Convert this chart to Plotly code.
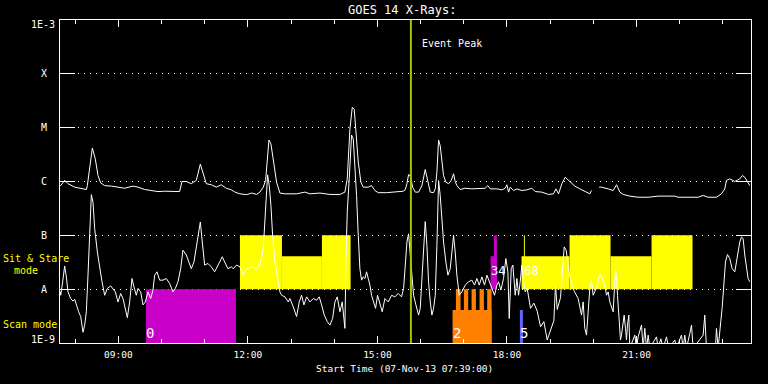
import datetime as dt
import math
import plotly.graph_objects as go

# ---------------- data ----------------
START = "2013-11-07 07:39:00"
HOURS_SPAN = 16.0
EVENT_PEAK_H = 15.775  # decimal hour of day

# GOES 14 long channel (1-8 A), decimal hour of day / W m^-2 (None = data gap)
long_t = [7.650, 7.666, 7.758, 7.835, 7.990, 8.144, 8.260, 8.283, 8.399, 8.468, 8.530, 8.592, 8.684,
          8.839, 9.147, 9.340, 9.456, 9.610, 9.764, 9.919, 10.073, 10.227, 10.420, 10.474, 10.575,
          10.690, 10.806, 10.899, 10.976, 11.038, 11.153, 11.269, 11.385, 11.500, 11.616,
          11.701, 11.816, 11.971, 12.087, 12.202, 12.279, 12.357, 12.411, 12.449, 12.488, 12.534,
          12.588, 12.665, 12.742, 12.858, 13.128, 13.321, 13.437, 13.668, 13.900, 14.131, 14.247,
          14.301, 14.363, 14.417, 14.463, 14.502, 14.556, 14.617, 14.671, 14.787, 14.864, 14.941,
          15.019, 15.211, 15.443, 15.597,
          15.644, 15.683, 15.721, 15.775, 15.814, 15.876, 15.953, 16.030, 16.107, 16.169, 16.223,
          16.300, 16.339, 16.377, 16.416, 16.454, 16.493, 16.531, 16.585, 16.647, 16.709, 16.763,
          16.801, 16.840, 16.917, 17.033, 17.187, 17.342, 17.496, 17.558, 17.612, 17.766, 17.882,
          17.959, 17.998, 18.036, 18.075, 18.152, 18.229, 18.345, 18.461, 18.576, 18.653, 18.808,
          18.962, 19.078, 19.132, 19.194, 19.271, 19.348, 19.425, 19.502, 19.571,
          19.687, 19.802, 19.918, 19.957, None, 20.134, 20.188, 20.343, 20.458, 20.536, 20.613,
          20.690, 20.844, 21.037, 21.269, 21.500, 21.732, 21.886, 21.963, 22.117, 22.272, 22.426,
          22.542, 22.657, 22.850, 22.966, 23.043, 23.082, 23.159, 23.275, 23.390, 23.452, 23.506,
          23.583, 23.622]
long_flux = [8.6e-7, 8.4e-7, 1.05e-6, 9.1e-7, 7.85e-7, 7.3e-7, 7.1e-7, 8.4e-7, 4.2e-6, 2.6e-6, 1.29e-6,
             9.4e-7, 8.4e-7, 8.2e-7, 7.5e-7, 8.2e-7, 7.85e-7, 7.1e-7, 6.8e-7, 6.5e-7, 6.6e-7, 6.5e-7,
             6.5e-7, 1.0e-6, 1.0e-6, 9.1e-7, 1.05e-6, 2.1e-6, 1.29e-6, 9.1e-7, 8.7e-7, 7.85e-7, 8.7e-7,
             7.5e-7, 7.0e-7,
             6.35e-7, 5.9e-7, 5.7e-7, 6.1e-7, 5.75e-7, 6.35e-7, 7.85e-7, 1.05e-6, 2.3e-6, 5.9e-6,
             5.0e-6, 2.3e-6, 9.7e-7, 6.1e-7, 5.9e-7, 5.9e-7, 6.35e-7, 5.9e-7, 6.1e-7, 5.75e-7, 5.75e-7,
             6.35e-7, 1.12e-6, 9.4e-6, 2.38e-5, 2.2e-5, 7.1e-6, 2.3e-6, 9.7e-7, 7.85e-7, 7.85e-7,
             8.4e-7, 6.8e-7, 6.2e-7, 6.2e-7, 6.5e-7, 6.6e-7,
             7.0e-7, 9.1e-7, 1.35e-6, 1.2e-6, 7.85e-7, 6.35e-7, 6.35e-7, 8.4e-7, 1.67e-6, 9.7e-7,
             6.35e-7, 6.2e-7, 7.3e-7, 1.49e-6, 5.9e-6, 4.6e-6, 2.3e-6, 1.29e-6, 9.7e-7, 9.1e-7, 1.05e-6,
             1.39e-6, 1.0e-6, 8.4e-7, 7.1e-7, 7.5e-7, 7.3e-7, 7.3e-7, 7.5e-7, 8.4e-7, 7.3e-7, 7.3e-7,
             7.0e-7, 7.5e-7, 8.7e-7, 6.35e-7, 7.85e-7, 6.8e-7, 7.3e-7, 6.8e-7, 7.0e-7, 7.5e-7, 6.5e-7,
             6.35e-7, 5.75e-7, 5.9e-7, 7.3e-7, 5.9e-7, 9.1e-7, 1.2e-6, 1.05e-6, 9.1e-7, 8.2e-7,
             7.3e-7, 6.5e-7, 5.9e-7, 6.8e-7, None, 7.85e-7, 7.85e-7, 7.3e-7, 6.8e-7, 8.7e-7, 6.35e-7,
             5.75e-7, 5.35e-7, 5.1e-7, 5.1e-7, 5.35e-7, 5.35e-7, 5.35e-7, 5.1e-7, 5.1e-7, 5.1e-7,
             5.1e-7, 5.5e-7, 5.1e-7, 5.1e-7, 5.9e-7, 7.3e-7, 1.05e-6, 1.12e-6, 1.0e-6, 1.12e-6,
             1.29e-6, 1.2e-6, 9.7e-7, 8.4e-7]

# GOES 14 short channel (0.5-4 A)
short_t = [7.658, 7.666, 7.712, 7.758, 7.797, 7.835, 7.897, 7.951, 7.990, 8.028, 8.082, 8.129, 8.183,
           8.221, 8.260, 8.298, 8.337, 8.376, 8.414, 8.453, 8.515, 8.569, 8.623, 8.684, 8.746, 8.823,
           8.877, 8.931, 8.993, 9.055, 9.109, 9.147, 9.209, 9.263, 9.317, 9.363, 9.417, 9.456, 9.518,
           9.572, 9.626, 9.687, 9.749, 9.803, 9.842, 9.896, 9.957, 10.035, 10.112, 10.189, 10.266,
           10.320, 10.382, 10.444, 10.497, 10.575, 10.636, 10.690, 10.752, 10.806, 10.860, 10.899,
           10.945, 10.999, 11.076, 11.153, 11.231, 11.308, 11.408, 11.462, 11.539, 11.616,
           11.662, 11.739, 11.816, 11.894, 11.971, 12.048, 12.125, 12.202, 12.279, 12.357, 12.411,
           12.457, 12.495, 12.534, 12.573, 12.627, 12.704, 12.742, 12.781, 12.858, 12.935, 12.974,
           13.051, 13.128, 13.190, 13.244, 13.298, 13.360, 13.437, 13.514, 13.591, 13.653, 13.707,
           13.769, 13.838, 13.900, 13.962, 14.016, 14.070, 14.131, 14.185, 14.247, 14.270, 14.301,
           14.347, 14.401, 14.440, 14.478, 14.517, 14.556, 14.594, 14.633, 14.671, 14.710, 14.749,
           14.787, 14.826, 14.864, 14.903, 14.957, 15.003, 15.057, 15.111, 15.173, 15.250, 15.327,
           15.404, 15.482, 15.559,
           15.606, 15.644, 15.683, 15.721, 15.760, 15.798, 15.837, 15.891, 15.953, 15.991, 16.030,
           16.069, 16.107, 16.146, 16.184, 16.223, 16.261, 16.300, 16.339, 16.377, 16.416, 16.454,
           16.493, 16.531, 16.585, 16.632, 16.686, 16.724, 16.763, 16.801, 16.840, 16.894, 16.956,
           17.033, 17.110, 17.187, 17.249, 17.303, 17.357, 17.419, 17.480, 17.535, 17.589, 17.650,
           17.712, 17.766, 17.805, 17.859, 17.920, 17.974, 18.021, 18.052, 18.098, 18.136, 18.191,
           18.229, 18.268, 18.306, 18.345, 18.383, 18.422, 18.468, 18.545, 18.623, 18.700, 18.777,
           18.854, 18.931, 19.008, 19.085, 19.124, 19.163, 19.240, 19.325, 19.371, 19.410, 19.448,
           19.502, 19.564,
           19.648, 19.687, 19.725, 19.764, 19.802, 19.841, 19.880, 19.918, 19.957, 19.995, 20.080,
           20.150, 20.188, 20.265, 20.304, 20.343, 20.381, 20.420, 20.458, 20.512, 20.536, 20.559,
           20.590, 20.628, 20.651, 20.690, 20.713, 20.744, 20.767, 20.790, 20.821, 20.844, 20.960,
           20.998, 21.037, 21.114, 21.153, 21.191, 21.230, 21.269, 21.307, 21.461, 21.500, 21.562,
           21.616, 21.693, 21.747, 21.886, 21.924, 22.040, 22.079, 22.117, 22.156, 22.233, 22.272,
           22.310, 22.542, 22.580, 22.619, 22.827, 22.850, 22.889, 22.927, 22.950, 22.981, 23.020,
           23.059, 23.105, 23.159, 23.213, 23.275, 23.313, 23.352, 23.390, 23.429, 23.468, 23.506,
           23.545, 23.583, 23.622]
short_flux = [9.0e-9, 7.7e-9, 1.37e-8, 2.7e-8, 1.69e-8, 8.9e-9, 6.7e-9, 6.0e-9, 6.5e-9, 5.1e-9, 3.8e-9,
              3.1e-9, 1.58e-9, 2.15e-9, 3.8e-9, 1.82e-8, 1.0e-7, 5.7e-7, 4.1e-7, 1.33e-7, 4.9e-8, 2.4e-8,
              1.37e-8, 7.7e-9, 1.03e-8, 1.15e-8, 1.03e-8, 8.9e-9, 5.8e-9, 8.3e-9, 6.7e-9, 5.1e-9,
              2.95e-9, 5.8e-9, 1.58e-8, 1.1e-8, 7.7e-9, 1.03e-8, 8.9e-9, 5.1e-9, 5.8e-9, 8.9e-9, 6.7e-9,
              9.6e-9, 1.82e-8, 2.1e-8, 1.47e-8, 1.47e-8, 1.58e-8, 1.27e-8, 8.9e-9, 1.03e-8, 1.37e-8,
              2.4e-8, 5.3e-8, 4.3e-8, 3.2e-8, 2.4e-8, 3.2e-8, 6.5e-8, 1.33e-7, 1.77e-7, 7.5e-8, 2.8e-8,
              3.0e-8, 2.6e-8, 2.1e-8, 2.8e-8, 4.0e-8, 3.2e-8, 2.4e-8, 2.6e-8,
              2.4e-8, 2.8e-8, 2.6e-8, 1.82e-8, 2.4e-8, 2.5e-8, 2.6e-8, 2.4e-8, 2.8e-8, 5.7e-8, 3.6e-7,
              1.33e-6, 8.4e-7, 3.6e-7, 1.0e-7, 3.2e-8, 1.37e-8, 8.9e-9, 7.7e-9, 7.2e-9, 5.8e-9, 6.7e-9,
              4.7e-9, 3.1e-9, 5.8e-9, 7.7e-9, 5.1e-9, 7.2e-9, 5.8e-9, 6.7e-9, 6.25e-9, 7.2e-9, 5.1e-9,
              3.3e-9, 2.5e-9, 2.15e-9, 2.85e-9, 5.8e-9, 7.2e-9, 3.8e-9, 5.8e-9, 1.87e-9, 3.2e-8, 2.7e-7,
              1.12e-6, 7.3e-6, 6.2e-6, 2.3e-6, 5.5e-7, 1.0e-7, 2.4e-8, 1.47e-8, 1.69e-8, 1.58e-8, 2.1e-8,
              1.58e-8, 1.19e-8, 7.7e-9, 5.8e-9, 4.4e-9, 7.7e-9, 5.1e-9, 3.8e-9, 6.7e-9, 5.8e-9, 7.7e-9,
              7.2e-9, 8.3e-9, 7.2e-9,
              1.03e-8, 3.2e-8, 7.5e-8, 1.07e-7, 4.3e-8, 1.37e-8, 7.7e-9, 5.1e-9, 3.3e-9, 4.4e-9, 1.37e-8,
              6.5e-8, 1.8e-7, 6.5e-8, 1.37e-8, 5.8e-9, 3.3e-9, 4.4e-9, 7.7e-9, 6.5e-8, 1.04e-6, 5.5e-7,
              1.77e-7, 7.5e-8, 3.2e-8, 1.82e-8, 2.4e-8, 5.7e-8, 1.0e-7, 4.9e-8, 1.82e-8, 7.7e-9, 8.9e-9,
              1.19e-8, 1.37e-8, 1.47e-8, 1.19e-8, 1.58e-8, 1.19e-8, 1.69e-8, 1.19e-8, 1.82e-8, 1.37e-8,
              1.03e-8, 7.7e-9, 1.19e-8, 1.37e-8, 9.6e-9, 1.58e-8, 3.7e-8, 2.1e-8, 2.85e-9, 2.4e-8,
              2.8e-8, 7.7e-9, 1.58e-8, 7.7e-9, 1.37e-8, 2.8e-8, 1.37e-8, 8.9e-9, 1.03e-8, 4.4e-9, 5.5e-9,
              3.9e-9, 2.0e-9, 2.5e-9, 1.14e-9, 1.7e-9, 2.6e-9, 1.2e-8, 4.2e-9, 7.0e-9, 6.1e-8, 5.3e-8,
              3.2e-8, 1.82e-8, 1.19e-8, 8.9e-9,
              6.7e-9, 4.4e-9, 3.3e-9, 5.8e-9, 1.87e-9, 1.4e-9, 4.4e-9, 1.03e-8, 1.47e-8, 7.7e-9, 1.1e-8,
              1.95e-8, 1.69e-8, 1.19e-8, 7.7e-9, 8.9e-9, 5.8e-9, 4.4e-9, 3.8e-9, 2.25e-8, 1.69e-8,
              7.7e-9, 3.8e-9, 1.14e-9, 1.4e-9, 2.5e-9, 3.3e-9, 1.87e-9, 1.14e-9, 2.15e-9, 3.3e-9,
              8e-10, 1.4e-9, 8e-10, 1.3e-9, 2.15e-9, 8e-10, 1.87e-9, 8e-10, 1.4e-9, 8e-10, 1.3e-9,
              8e-10, 1.2e-9, 8e-10, 1.3e-9, 8e-10, 1.14e-9, 8e-10, 1.4e-9, 8e-10, 1.4e-9, 8e-10,
              1.5e-9, 2.15e-9, 8e-10, 1.4e-9, 3.3e-9, 8e-10, 8e-10, 1.87e-9, 8e-10, 1.4e-9, 2.5e-9,
              4.4e-9, 1.19e-8, 3.2e-8, 4.4e-8, 3.7e-8, 2.4e-8, 2.1e-8, 3.2e-8, 4.9e-8, 7.5e-8, 9.3e-8,
              8.7e-8, 4.3e-8, 2.4e-8, 1.58e-8, 1.37e-8]

# Observing blocks: (label, colour, start hour, end hour, top level)
LEVEL_A = 1e-8
LEVEL_MID_UP = 4.1e-8
LEVEL_B = 1e-7
LEVEL_BOTTOM = 1e-9
LEVEL_MID_LOW = 4.1e-9

sit_stare_blocks = [  # bottom at A level
    ("1", "#ffff00", 11.817, 12.789, LEVEL_B),
    ("1", "#ffff00", 12.789, 13.715, LEVEL_MID_UP),
    ("1", "#ffff00", 13.715, 14.379, LEVEL_B),
    ("3", "#c800c8", 17.620, 17.766, LEVEL_MID_UP),
    ("4", "#c800c8", 17.697, 17.766, LEVEL_B),
    ("7", "#ffff00", 18.337, 19.449, LEVEL_MID_UP),
    ("7", "#ffff00", 19.449, 20.398, LEVEL_B),
    ("7", "#ffff00", 20.398, 21.347, LEVEL_MID_UP),
    ("7", "#ffff00", 21.347, 22.296, LEVEL_B),
    ("6", "#ffff00", 18.391, 18.414, LEVEL_B),
]
scan_blocks = [  # bottom at 1E-9
    ("0", "#c800c8", 9.641, 11.724, LEVEL_A),
    ("2", "#ff8000", 16.740, 17.643, LEVEL_MID_LOW),
    ("2", "#ff8000", 16.817, 16.925, LEVEL_A),
    ("2", "#ff8000", 17.002, 17.101, LEVEL_A),
    ("2", "#ff8000", 17.180, 17.280, LEVEL_A),
    ("2", "#ff8000", 17.365, 17.465, LEVEL_A),
    ("2", "#ff8000", 17.541, 17.643, LEVEL_A),
    ("5", "#6464ff", 18.298, 18.368, LEVEL_MID_LOW),
]
scan_labels = [("0", 9.641), ("2", 16.740), ("5", 18.298)]
sit_labels = [("34", 17.620), ("68", 18.400)]

y_tick_vals = [1e-9, 1e-8, 1e-7, 1e-6, 1e-5, 1e-4, 1e-3]
y_tick_text = ["1E-9", "A", "B", "C", "M", "X", "1E-3"]
x_major_ticks = ["09:00", "12:00", "15:00", "18:00", "21:00"]

# ---------------- helpers ----------------
base_day = dt.datetime(2013, 11, 7)
t_start = dt.datetime.strptime(START, "%Y-%m-%d %H:%M:%S")
t_end = t_start + dt.timedelta(hours=HOURS_SPAN)


def to_dt(h):
    if h is None:
        return None
    return base_day + dt.timedelta(hours=h)


FONT = "DejaVu Sans Mono"
W, H = 768, 384
ML, MR, MT, MB = 60, 17, 20, 41
PW, PH = W - ML - MR, H - MT - MB


def px(xp):
    return (xp - ML) / PW


def py(yp):
    return 1 - (yp - MT) / PH


fig = go.Figure()

for bottom, blocks in ((LEVEL_A, sit_stare_blocks), (LEVEL_BOTTOM, scan_blocks)):
    for lab, col, t0, t1, top in blocks:
        fig.add_trace(go.Scatter(
            x=[to_dt(t0), to_dt(t1), to_dt(t1), to_dt(t0), to_dt(t0)],
            y=[bottom, bottom, top, top, bottom],
            mode="lines", fill="toself", fillcolor=col,
            line=dict(width=0, color=col), hoverinfo="skip", showlegend=False))

fig.add_trace(go.Scatter(x=[to_dt(h) for h in short_t], y=short_flux, mode="lines",
                         line=dict(color="white", width=1), connectgaps=False, showlegend=False))
fig.add_trace(go.Scatter(x=[to_dt(h) for h in long_t], y=long_flux, mode="lines",
                         line=dict(color="white", width=1), connectgaps=False, showlegend=False))

fig.add_shape(type="line", xref="x", yref="paper", x0=to_dt(EVENT_PEAK_H), x1=to_dt(EVENT_PEAK_H),
              y0=0, y1=1, line=dict(color="rgb(155,200,0)", width=2), layer="above")

ann = []
lab_font = dict(family=FONT, size=10, color="white")
# y-axis labels
ann.append(dict(text="1E-3", xref="paper", yref="paper", x=px(57), y=py(24), xanchor="right",
                yanchor="middle", showarrow=False, font=lab_font))
ann.append(dict(text="1E-9", xref="paper", yref="paper", x=px(57), y=py(339.5), xanchor="right",
                yanchor="middle", showarrow=False, font=lab_font))
for v, t in zip(y_tick_vals[1:-1], y_tick_text[1:-1]):
    ann.append(dict(text=t, xref="paper", yref="y", x=px(43.5), y=math.log10(v), xanchor="center",
                    yanchor="middle", showarrow=False, font=lab_font))
# mode labels
yel = dict(family=FONT, size=10, color="#ffff00")
ann.append(dict(text="Sit & Stare", xref="paper", yref="paper", x=px(0.5), y=py(258.7),
                xanchor="left", yanchor="middle", showarrow=False, font=yel))
ann.append(dict(text="mode", xref="paper", yref="paper", x=px(11.5), y=py(270.7),
                xanchor="left", yanchor="middle", showarrow=False, font=yel))
ann.append(dict(text="Scan mode", xref="paper", yref="paper", x=px(0.5), y=py(324),
                xanchor="left", yanchor="middle", showarrow=False, font=yel))
# title, x label, event
ann.append(dict(text="GOES 14 X-Rays:", xref="paper", yref="paper", x=px(401.7), y=py(9.5),
                xanchor="center", yanchor="middle", showarrow=False,
                font=dict(family=FONT, size=12, color="white")))
ann.append(dict(text="Start Time (07-Nov-13 07:39:00)", xref="paper", yref="paper", x=px(404.7),
                y=py(368), xanchor="center", yanchor="middle", showarrow=False,
                font=dict(family=FONT, size=9.5, color="white")))
ann.append(dict(text="Event Peak", xref="x", yref="paper", x=to_dt(EVENT_PEAK_H), xshift=9,
                y=py(43.3), xanchor="left", yanchor="middle", showarrow=False, font=lab_font))
# block number labels
for t, h in scan_labels:
    ann.append(dict(text=t, xref="x", yref="y", x=to_dt(h), y=-8.81, xanchor="left", xshift=-2,
                    yanchor="middle", showarrow=False, font=dict(family=FONT, size=14, color="white")))
for t, h in sit_labels:
    ann.append(dict(text=t, xref="x", yref="y", x=to_dt(h), y=-7.657, xanchor="left", xshift=-2,
                    yanchor="middle", showarrow=False, font=dict(family=FONT, size=12, color="white")))

fig.update_layout(
    width=W, height=H, margin=dict(l=ML, r=MR, t=MT, b=MB, pad=0),
    paper_bgcolor="black", plot_bgcolor="black", showlegend=False,
    annotations=ann,
    xaxis=dict(type="date", range=[t_start, t_end], showgrid=False, zeroline=False,
               showline=True, linecolor="white", linewidth=1, mirror="ticks",
               ticks="inside", ticklen=7, tickcolor="white", tickwidth=1,
               tickmode="array", tickvals=[base_day + dt.timedelta(hours=int(s[:2])) for s in x_major_ticks],
               ticktext=x_major_ticks, ticklabelstandoff=3,
               tickfont=dict(family=FONT, size=9.5, color="white"),
               minor=dict(ticks="inside", ticklen=4, tickcolor="white", tickwidth=1,
                          dtick=3600000, tick0="2013-11-07 08:00:00", showgrid=False)),
    yaxis=dict(type="log", range=[-9, -3], showticklabels=False,
               tickmode="array", tickvals=y_tick_vals,
               showline=True, linecolor="white", linewidth=1, mirror="ticks",
               ticks="inside", ticklen=15, tickcolor="white", tickwidth=1,
               showgrid=True, gridcolor="white", gridwidth=1, griddash="1px,5px", zeroline=False),
)

fig.write_html("out.html")
